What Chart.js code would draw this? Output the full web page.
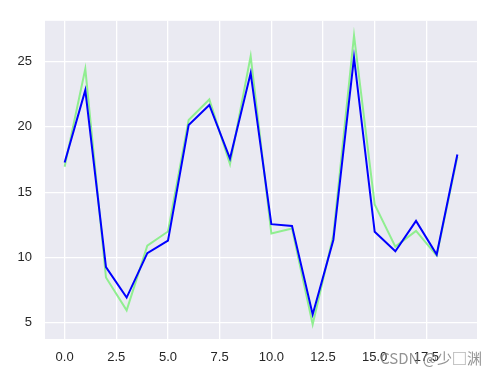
<!DOCTYPE html>
<html>
<head>
<meta charset="utf-8">
<script src="https://cdn.jsdelivr.net/npm/chart.js@4"></script>
<style>
  body { margin: 0; background: #fff; }
  canvas { display: block; }
</style>
</head>
<body>
<canvas id="lineChart" width="496" height="377"></canvas>
<script>
// Data
const xValues = [0, 1, 2, 3, 4, 5, 6, 7, 8, 9, 10, 11, 12, 13, 14, 15, 16, 17, 18, 19];
const blueValues = [17.27, 22.81, 9.27, 6.93, 10.33, 11.29, 20.14, 21.68, 17.57, 24.12,
    12.55, 12.42, 5.63, 11.34, 25.32, 11.97, 10.48, 12.8, 10.23, 17.88];
const greenValues = [16.95, 24.44, 8.47, 5.95, 10.91, 11.99, 20.52, 22.1, 17.15, 25.42,
    11.84, 12.22, 4.87, 11.7, 27.01, 14.06, 10.83, 12.04, 10.15, 17.7];
const xTicks = [0, 2.5, 5, 7.5, 10, 12.5, 15, 17.5];
const yTicks = [5, 10, 15, 20, 25];
const watermark = 'CSDN @少□渊';

const toPoints = vals => vals.map((v, i) => ({ x: xValues[i], y: v }));

const tickFont = { family: 'Liberation Sans, Arial, sans-serif', size: 13 };

// Gray seaborn background behind the plot area
const bgPlugin = {
    id: 'plotBg',
    beforeDraw(chart) {
        const { ctx, chartArea: a } = chart;
        ctx.save();
        ctx.fillStyle = '#EAEAF2';
        ctx.fillRect(a.left, a.top, a.right - a.left, a.bottom - a.top);
        ctx.restore();
    }
};

// Watermark text in the corner
const markPlugin = {
    id: 'watermark',
    afterDraw(chart) {
        const ctx = chart.ctx;
        ctx.save();
        ctx.font = '15px "Noto Sans CJK SC", "Liberation Sans", sans-serif';
        ctx.fillStyle = 'rgba(120,120,120,0.8)';
        ctx.textAlign = 'right';
        ctx.textBaseline = 'alphabetic';
        ctx.fillText(watermark, 482, 364);
        ctx.restore();
    }
};

const config = {
    type: 'line',
    data: {
        datasets: [{
            label: 'blue',
            data: toPoints(blueValues),
            borderColor: '#0000FF',
            borderWidth: 2,
            pointRadius: 0,
            tension: 0,
            order: 0
        }, {
            label: 'green',
            data: toPoints(greenValues),
            borderColor: '#90EE90',
            borderWidth: 2,
            pointRadius: 0,
            tension: 0,
            order: 1
        }]
    },
    options: {
        responsive: false,
        animation: false,
        layout: { padding: { left: 0, right: 19, top: 17, bottom: 0 } },
        plugins: { legend: { display: false }, tooltip: { enabled: false } },
        scales: {
            x: {
                type: 'linear',
                min: -0.95,
                max: 19.95,
                afterBuildTicks: s => { s.ticks = xTicks.map(v => ({ value: v })); },
                afterFit: s => { s.height = 38; },
                grid: { color: '#FFFFFF', lineWidth: 1.3, drawTicks: false },
                border: { display: false },
                ticks: {
                    padding: 11,
                    color: '#262626',
                    font: tickFont,
                    maxRotation: 0,
                    callback: v => Number(v).toFixed(1)
                }
            },
            y: {
                min: 3.76,
                max: 28.12,
                afterBuildTicks: s => { s.ticks = yTicks.map(v => ({ value: v })); },
                afterFit: s => { s.width = 45; },
                grid: { color: '#FFFFFF', lineWidth: 1.3, drawTicks: false },
                border: { display: false },
                ticks: {
                    padding: 13,
                    color: '#262626',
                    font: tickFont
                }
            }
        }
    },
    plugins: [bgPlugin, markPlugin]
};

new Chart(document.getElementById('lineChart').getContext('2d'), config);
</script>
</body>
</html>
